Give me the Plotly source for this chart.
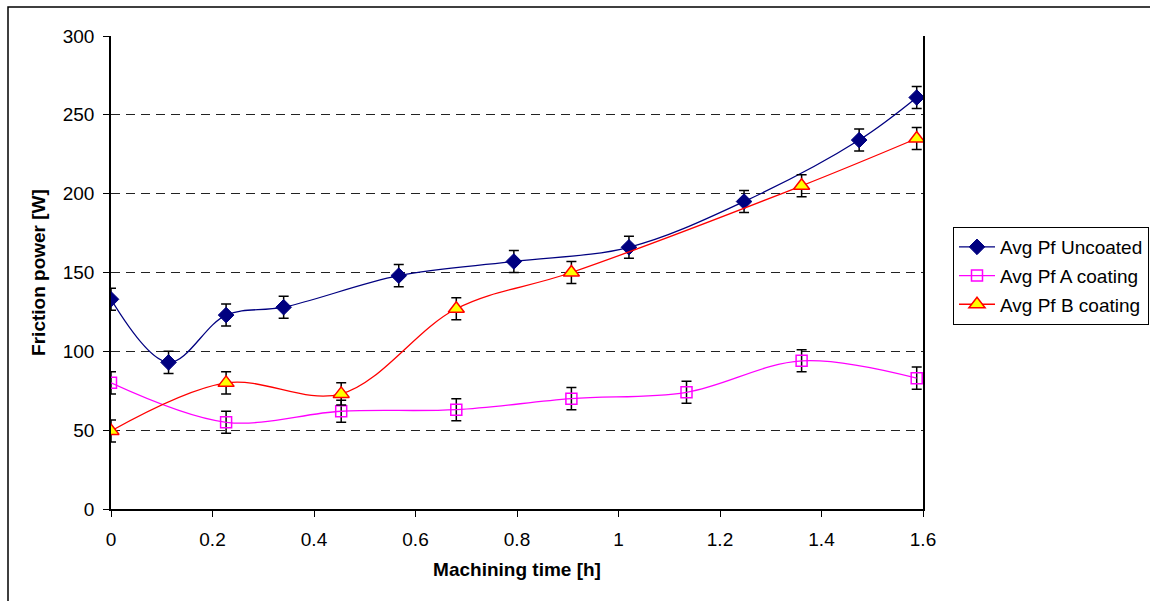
import plotly.graph_objects as go

# ---- data ----
x_uncoated = [0, 0.1134, 0.2268, 0.3402, 0.567, 0.7938, 1.0206, 1.2474, 1.4742, 1.5876]
y_uncoated = [133, 93, 123, 128, 148, 157, 166, 195, 234, 261]
err_uncoated = [7, 7, 7, 7, 7, 7, 7, 7, 7, 7]

x_a = [0, 0.2268, 0.4536, 0.6804, 0.9072, 1.134, 1.3608, 1.5876]
y_a = [80, 55, 62, 63, 70, 74, 94, 83]
err_a = [7, 7, 7, 7, 7, 7, 7, 7]

x_b = [0, 0.2268, 0.4536, 0.6804, 0.9072, 1.3608, 1.5876]
y_b = [49.5, 80, 73, 127, 150, 205, 235]
err_b = [7, 7, 7, 7, 7, 7, 7]

names = ["Avg Pf Uncoated", "Avg Pf A coating", "Avg Pf B coating"]
x_ticks = [0, 0.2, 0.4, 0.6, 0.8, 1, 1.2, 1.4, 1.6]
x_tick_text = ["0", "0.2", "0.4", "0.6", "0.8", "1", "1.2", "1.4", "1.6"]
y_ticks = [0, 50, 100, 150, 200, 250, 300]

# ---- layout geometry (pixels) ----
W, H = 1150, 601
ML, MR, MT, MB = 111, 227, 36, 92
PW, PH = W - ML - MR, H - MT - MB

def px_to_paper_x(px):
    return (px - ML) / PW

def px_to_paper_y(py):
    return (H - MB - py) / PH

FONT = "Liberation Sans, Arial, sans-serif"

fig = go.Figure()

def err(v):
    return dict(type="data", array=v, visible=True, color="black", thickness=1.5, width=5)

fig.add_trace(go.Scatter(
    x=x_uncoated, y=y_uncoated, name=names[0], mode="lines+markers",
    line=dict(color="#000080", width=1.3, shape="spline", smoothing=1),
    marker=dict(symbol="diamond", size=12, color="#000080", line=dict(color="#000080", width=1)),
    error_y=err(err_uncoated), legendgroup="g1"))

fig.add_trace(go.Scatter(
    x=x_a, y=y_a, name=names[1], mode="lines+markers",
    line=dict(color="#FF00FF", width=1.3, shape="spline", smoothing=1),
    marker=dict(symbol="square-open", size=11, color="#FF00FF", line=dict(color="#FF00FF", width=1.5)),
    error_y=err(err_a), legendgroup="g2"))

fig.add_trace(go.Scatter(
    x=x_b, y=y_b, name=names[2], mode="lines+markers",
    line=dict(color="#FF0000", width=1.3, shape="spline", smoothing=1),
    marker=dict(symbol="triangle-up", size=14, color="#FFFF00", line=dict(color="#FF0000", width=1.5)),
    error_y=err(err_b), legendgroup="g3"))

# outer border (left and top visible, right/bottom run off the image)
fig.add_shape(type="rect", xref="paper", yref="paper",
              x0=px_to_paper_x(8), x1=px_to_paper_x(W + 20),
              y0=px_to_paper_y(H + 20), y1=px_to_paper_y(7),
              line=dict(color="black", width=1.5), fillcolor="rgba(0,0,0,0)", layer="below")

fig.update_layout(
    width=W, height=H,
    margin=dict(l=ML, r=MR, t=MT, b=MB, autoexpand=False),
    paper_bgcolor="white", plot_bgcolor="white",
    font=dict(family=FONT, size=19, color="black"),
    showlegend=True,
    legend=dict(
        x=px_to_paper_x(953), y=px_to_paper_y(227), xanchor="left", yanchor="top",
        bordercolor="black", borderwidth=1, bgcolor="white",
        font=dict(family=FONT, size=19, color="black"),
        traceorder="grouped", tracegroupgap=1, itemwidth=36,
    ),
    xaxis=dict(
        range=[0, 1.6], tickmode="array", tickvals=x_ticks, ticktext=x_tick_text,
        showgrid=False, zeroline=False, showline=True, linecolor="black", linewidth=1.5,
        ticks="outside", ticklen=6, tickwidth=1, tickcolor="black", ticklabelstandoff=6,
        tickfont=dict(family=FONT, size=19),
        title=dict(text="<b>Machining time [h]</b>", font=dict(family=FONT, size=19), standoff=14),
    ),
    yaxis=dict(
        range=[0, 300], tickmode="array", tickvals=y_ticks,
        showgrid=True, gridcolor="#222222", gridwidth=1, griddash="9px,6px",
        zeroline=False, showline=True, linecolor="black", linewidth=1.5, mirror=True,
        ticks="outside", ticklen=6, tickwidth=1, tickcolor="black", ticklabelstandoff=5,
        tickfont=dict(family=FONT, size=19),
        title=dict(text="<b>Friction power [W]</b>", font=dict(family=FONT, size=19), standoff=12),
    ),
)

fig.write_html("out.html")
